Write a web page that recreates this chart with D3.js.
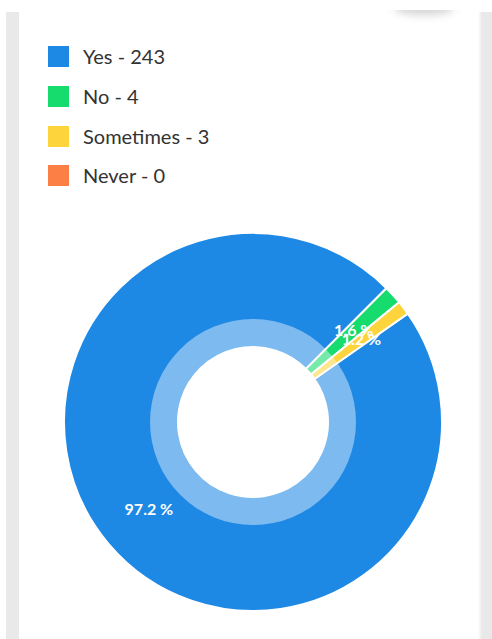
<!DOCTYPE html>
<html>
<head>
<meta charset="utf-8">
<script src="https://cdn.jsdelivr.net/npm/d3@7"></script>
<style>
  html, body { margin: 0; padding: 0; background: #ffffff; }
  svg { display: block; }
</style>
</head>
<body>
<svg id="chart" width="492" height="639"></svg>
<script>
// Survey answers
const categories = ["Yes", "No", "Sometimes", "Never"];
const counts = [243, 4, 3, 0];
const colors = ["#1E88E5", "#16DB6D", "#FDD43B", "#FC7F45"];

const W = 492, H = 639;
const svg = d3.select("#chart");
const defs = svg.append("defs");

// Page frame: grey gutters around the white card
const frame = svg.append("g");
frame.append("rect").attr("x", 6).attr("y", 12).attr("width", 13).attr("height", H - 12).attr("fill", "#e9e9e9");
frame.append("rect").attr("x", 482).attr("y", 12).attr("width", 10).attr("height", H - 12).attr("fill", "#e9e9e9");
const edge = defs.append("linearGradient").attr("id", "edgeFade");
edge.append("stop").attr("offset", "0%").attr("stop-color", "#ffffff");
edge.append("stop").attr("offset", "100%").attr("stop-color", "#e9e9e9");
frame.append("rect").attr("x", 478).attr("y", 12).attr("width", 4).attr("height", H - 12).attr("fill", "url(#edgeFade)");

// Soft shadow under the floating button above the card
defs.append("filter").attr("id", "soft")
  .attr("x", "-50%").attr("y", "-100%").attr("width", "200%").attr("height", "300%")
  .append("feGaussianBlur").attr("stdDeviation", 4);
svg.append("ellipse").attr("cx", 424).attr("cy", 8).attr("rx", 30).attr("ry", 7)
  .attr("fill", "#d4d4d4").attr("filter", "url(#soft)");
svg.append("rect").attr("x", 370).attr("y", 0).attr("width", 108).attr("height", 10).attr("fill", "#ffffff")
  .attr("filter", null);

// Legend
const legend = svg.append("g").attr("transform", "translate(48,46)");
const rows = legend.selectAll("g").data(categories).join("g")
  .attr("transform", (d, i) => `translate(0,${[0, 40, 80, 119][i]})`);
rows.append("rect").attr("width", 21).attr("height", 21).attr("fill", (d, i) => colors[i]);
rows.append("text").attr("x", 35).attr("y", 18)
  .attr("font-family", "Lato, 'Open Sans', sans-serif").attr("font-size", 20)
  .attr("fill", "#333333")
  .text((d, i) => `${d} - ${counts[i]}`);

// Donut
const cx = 253, cy = 422;
const rOuter = 189, rInner = 75, rShade = 103;
const total = d3.sum(counts);
const start = 55 * Math.PI / 180;

const pie = d3.pie().sort(null).value(d => d.value)
  .startAngle(start).endAngle(start + 2 * Math.PI);
const arcs = pie(categories.map((c, i) => ({ name: c, value: counts[i], color: colors[i] })))
  .filter(a => a.data.value > 0);

const g = svg.append("g").attr("transform", `translate(${cx},${cy})`);
const arc = d3.arc().innerRadius(rInner).outerRadius(rOuter);

g.selectAll("path.slice").data(arcs).join("path")
  .attr("class", "slice")
  .attr("d", arc)
  .attr("fill", d => d.data.color)
  .attr("stroke", "#ffffff")
  .attr("stroke-width", 2);

// Lighter inner band
g.append("path")
  .attr("d", d3.arc().innerRadius(rInner).outerRadius(rShade).startAngle(0).endAngle(2 * Math.PI)())
  .attr("fill", "#ffffff").attr("fill-opacity", 0.42);

// Percentage labels, centred on each slice
const labelArc = d3.arc().innerRadius(rInner + 4).outerRadius(rOuter + 4);
g.selectAll("text.pct").data(arcs).join("text")
  .attr("class", "pct")
  .attr("transform", d => {
    const [x, y] = labelArc.centroid(d);
    return `translate(${x},${y})`;
  })
  .attr("text-anchor", "middle")
  .attr("dy", "0.35em")
  .attr("font-family", "Lato, 'Open Sans', sans-serif")
  .attr("font-weight", "bold")
  .attr("font-size", 16)
  .attr("fill", "#ffffff")
  .text(d => `${(d.data.value / total * 100).toFixed(1)} %`);
</script>
</body>
</html>
